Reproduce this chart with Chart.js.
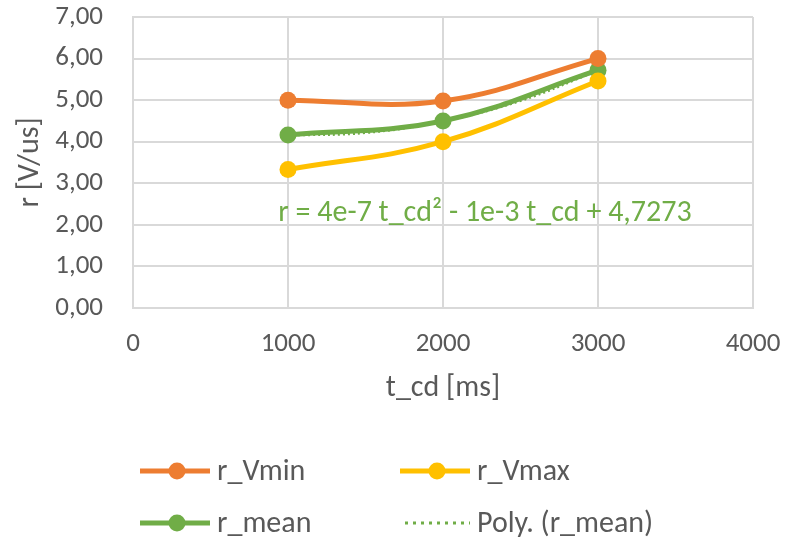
<!DOCTYPE html>
<html><head><meta charset="utf-8">
<script src="https://cdn.jsdelivr.net/npm/chart.js@4"></script>
<style>html,body{margin:0;padding:0;background:#fff}#wrap{width:799px;height:538px}</style>
</head><body><div id="wrap"><canvas id="c" width="799" height="538"></canvas></div>
<script>
const tCd = [1000, 2000, 3000];
const rVmin = [5.00, 4.98, 6.00];
const rVmax = [3.33, 4.00, 5.46];
const rMean = [4.16, 4.50, 5.72];
const polyX = [1000, 1500, 2000, 2500, 3000];
const polyY = [4.16, 4.22, 4.50, 4.99, 5.72];
const xTicks = [0, 1000, 2000, 3000, 4000];
const yTicks = [0, 1, 2, 3, 4, 5, 6, 7];
const seriesNames = ['r_Vmin', 'r_Vmax', 'r_mean', 'Poly. (r_mean)'];
const equationText = 'r = 4e-7 t_cd² - 1e-3 t_cd + 4,7273';

const ORANGE = '#ED7D31', YELLOW = '#FFC000', GREEN = '#70AD47', TXT = '#595959', GRID = '#D9D9D9';
const FONT = "Carlito, 'Open Sans', Lato, sans-serif";

const pts = (xs, ys) => xs.map((x, i) => ({x, y: ys[i]}));
const lineDs = (label, data, color) => ({
  label, data, borderColor: color, backgroundColor: color,
  borderWidth: 5, pointRadius: 8.5, pointHoverRadius: 8.5, pointBorderWidth: 0,
  tension: 0.4, showLine: true, fill: false
});

const extras = {
  id: 'extras',
  afterDraw(chart) {
    const ctx = chart.ctx, a = chart.chartArea;
    ctx.save();
    ctx.fillStyle = GREEN;
    ctx.font = "30px " + FONT;
    ctx.textAlign = 'center';
    ctx.textBaseline = 'middle';
    ctx.fillText(equationText, a.left + 352, a.top + 196);
    const items = [
      {name: seriesNames[0], color: ORANGE, x: 140, y: 471, dot: false},
      {name: seriesNames[1], color: YELLOW, x: 400, y: 471, dot: false},
      {name: seriesNames[2], color: GREEN, x: 140, y: 523, dot: false},
      {name: seriesNames[3], color: GREEN, x: 400, y: 523, dot: true}
    ];
    ctx.textAlign = 'left';
    ctx.font = "30px " + FONT;
    items.forEach(it => {
      ctx.strokeStyle = it.color;
      ctx.fillStyle = it.color;
      if (it.dot) {
        ctx.lineWidth = 3;
        ctx.setLineDash([3, 5]);
        ctx.beginPath(); ctx.moveTo(it.x + 5, it.y); ctx.lineTo(it.x + 70, it.y); ctx.stroke();
        ctx.setLineDash([]);
      } else {
        ctx.lineWidth = 5;
        ctx.beginPath(); ctx.moveTo(it.x, it.y); ctx.lineTo(it.x + 70, it.y); ctx.stroke();
        ctx.beginPath(); ctx.arc(it.x + 37, it.y, 8.5, 0, Math.PI * 2); ctx.fill();
      }
      ctx.fillStyle = TXT;
      ctx.fillText(it.name, it.x + 77, it.y + 1);
    });
    ctx.restore();
  }
};

new Chart(document.getElementById('c'), {
  type: 'scatter',
  data: {
    datasets: [
      lineDs(seriesNames[0], pts(tCd, rVmin), ORANGE),
      lineDs(seriesNames[1], pts(tCd, rVmax), YELLOW),
      lineDs(seriesNames[2], pts(tCd, rMean), GREEN),
      {label: seriesNames[3], data: pts(polyX, polyY), borderColor: GREEN, borderWidth: 3,
       borderDash: [2, 3], pointRadius: 0, showLine: true, tension: 0.4, fill: false}
    ]
  },
  options: {
    responsive: false, animation: false, devicePixelRatio: 1,
    layout: {padding: {top: 17, right: 46, bottom: 130, left: 0}},
    plugins: {legend: {display: false}, tooltip: {enabled: false}},
    scales: {
      x: {
        type: 'linear', min: 0, max: 4000,
        afterBuildTicks: s => { s.ticks = xTicks.map(v => ({value: v})); },
        afterFit: s => { s.height = 100; s.paddingLeft = 0; s.paddingRight = 0; },
        grid: {color: GRID, lineWidth: 2, drawTicks: false},
        border: {color: GRID, width: 2},
        ticks: {color: TXT, font: {size: 27, family: FONT}, padding: 20, maxRotation: 0,
          callback: v => String(v)},
        title: {display: true, text: 't_cd [ms]', color: TXT, font: {size: 30, family: FONT}, padding: {top: 6, bottom: 2}}
      },
      y: {
        type: 'linear', min: 0, max: 7,
        afterBuildTicks: s => { s.ticks = yTicks.map(v => ({value: v})); },
        afterFit: s => { s.width = 133; s.paddingTop = 0; s.paddingBottom = 0; },
        grid: {color: GRID, lineWidth: 2, drawTicks: false},
        border: {color: GRID, width: 2},
        ticks: {color: TXT, font: {size: 27, family: FONT}, padding: 30,
          callback: v => v.toFixed(2).replace('.', ',')},
        title: {display: true, text: 'r [V/us]', color: TXT, font: {size: 30, family: FONT}, padding: {top: 12, bottom: 4}}
      }
    }
  },
  plugins: [extras]
});
</script></body></html>
